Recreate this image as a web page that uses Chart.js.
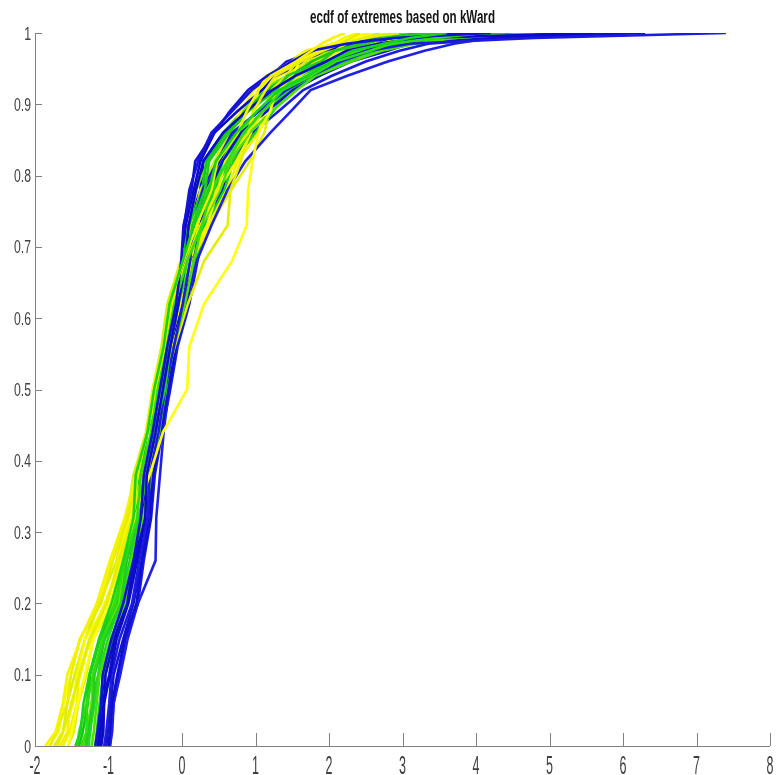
<!DOCTYPE html>
<html>
<head>
<meta charset="utf-8">
<title>ecdf of extremes based on kWard</title>
<script src="https://cdn.jsdelivr.net/npm/chart.js@4/dist/chart.umd.min.js"></script>
<style>
  html, body { margin: 0; padding: 0; background: #fff; }
  #wrap { width: 780px; height: 775px; }
</style>
</head>
<body>
<div id="wrap"><canvas id="ecdf" width="780" height="775"></canvas></div>
<script>
const cdfLevels = [0, 0.02, 0.06, 0.1, 0.15, 0.2, 0.26, 0.32, 0.38, 0.44, 0.5, 0.56, 0.62, 0.68, 0.73, 0.78, 0.82, 0.86, 0.89, 0.92, 0.94, 0.96, 0.975, 0.985, 0.993, 1];

const yellowX = [
  [-1.86, -1.72, -1.62, -1.56, -1.38, -1.16, -0.98, -0.78, -0.63, -0.47, -0.4, -0.25, -0.17, 0.02, 0.2, 0.4, 0.48, 0.76, 0.88, 1.04, 1.21, 1.55, 1.76, 1.9, 2.05, 2.22],
  [-1.79, -1.71, -1.56, -1.51, -1.39, -1.1, -0.94, -0.74, -0.6, -0.48, -0.32, -0.24, -0.14, 0.06, 0.25, 0.49, 0.59, 0.9, 0.97, 1.14, 1.27, 1.62, 1.92, 2.16, 2.3, 2.42],
  [-1.55, -1.5, -1.42, -1.32, -1.2, -0.98, -0.8, -0.64, -0.44, -0.26, 0.07, 0.1, 0.3, 0.68, 0.88, 0.9, 0.96, 1.04, 1.2, 1.28, 1.5, 1.6, 1.9, 2.04, 2.34, 2.6],
  [-1.7, -1.62, -1.5, -1.4, -1.26, -1.02, -0.86, -0.68, -0.54, -0.38, -0.26, -0.1, 0.08, 0.3, 0.62, 0.66, 0.8, 0.92, 1.1, 1.22, 1.42, 1.56, 1.86, 2.04, 2.4, 2.95],
  [-1.69, -1.62, -1.48, -1.43, -1.32, -1.02, -0.87, -0.72, -0.57, -0.42, -0.35, -0.23, -0.08, 0.09, 0.34, 0.49, 0.74, 0.94, 0.97, 1.04, 1.16, 1.49, 1.68, 2.07, 2.2, 2.4],
  [-1.74, -1.62, -1.56, -1.46, -1.32, -1.12, -0.89, -0.75, -0.66, -0.49, -0.4, -0.28, -0.2, -0.02, 0.14, 0.25, 0.44, 0.64, 0.88, 1.23, 1.43, 1.69, 2.08, 2.24, 2.45, 2.7],
  [-1.62, -1.53, -1.43, -1.4, -1.24, -0.97, -0.83, -0.66, -0.51, -0.36, -0.3, -0.18, -0.02, 0.14, 0.36, 0.61, 0.76, 1.04, 1.13, 1.23, 1.54, 1.82, 2.16, 2.58, 2.75, 3.2],
  [-1.81, -1.68, -1.61, -1.51, -1.39, -1.13, -0.96, -0.77, -0.6, -0.47, -0.34, -0.27, -0.14, 0.01, 0.18, 0.28, 0.48, 0.66, 0.8, 0.98, 1.16, 1.46, 1.68, 2.07, 2.25, 2.55],
  [-1.55, -1.47, -1.41, -1.3, -1.21, -0.94, -0.78, -0.62, -0.45, -0.36, -0.21, -0.13, 0.04, 0.19, 0.38, 0.67, 0.92, 1.12, 1.19, 1.28, 1.6, 1.89, 2.32, 2.67, 2.99, 3.45],
  [-1.66, -1.56, -1.51, -1.38, -1.26, -1.05, -0.83, -0.68, -0.54, -0.42, -0.28, -0.23, -0.08, 0.08, 0.23, 0.46, 0.55, 0.84, 0.97, 1.18, 1.32, 1.76, 2.0, 2.33, 2.55, 2.8]
];

const greenX = [
  [-1.45, -1.38, -1.34, -1.26, -1.13, -0.96, -0.8, -0.66, -0.63, -0.47, -0.38, -0.25, -0.17, 0.01, 0.16, 0.37, 0.46, 0.74, 1.02, 1.32, 1.7, 2.03, 2.32, 2.75, 3.1, 3.6],
  [-1.37, -1.3, -1.29, -1.21, -1.08, -0.9, -0.78, -0.61, -0.56, -0.42, -0.33, -0.2, -0.1, 0.07, 0.27, 0.4, 0.62, 0.84, 1.1, 1.37, 1.76, 2.09, 2.56, 2.84, 3.46, 4.1],
  [-1.31, -1.28, -1.21, -1.19, -1.05, -0.83, -0.75, -0.58, -0.48, -0.39, -0.23, -0.16, -0.05, 0.07, 0.14, 0.31, 0.37, 0.64, 0.9, 1.28, 1.43, 1.89, 2.08, 2.5, 2.76, 3.4],
  [-1.23, -1.2, -1.16, -1.12, -0.97, -0.78, -0.69, -0.53, -0.43, -0.31, -0.23, -0.11, 0.04, 0.16, 0.27, 0.52, 0.66, 0.92, 1.22, 1.56, 1.82, 2.3, 2.72, 3.18, 3.7, 4.8],
  [-1.4, -1.35, -1.28, -1.25, -1.12, -0.89, -0.8, -0.63, -0.57, -0.47, -0.3, -0.23, -0.13, 0.01, 0.09, 0.28, 0.33, 0.6, 0.87, 1.14, 1.49, 1.76, 2.08, 2.41, 2.76, 3.2],
  [-1.27, -1.25, -1.19, -1.14, -1.01, -0.83, -0.69, -0.58, -0.51, -0.36, -0.28, -0.16, -0.05, 0.1, 0.25, 0.37, 0.59, 0.8, 1.1, 1.46, 1.76, 2.23, 2.56, 2.92, 3.58, 5.0],
  [-1.42, -1.4, -1.3, -1.26, -1.12, -0.92, -0.77, -0.6, -0.52, -0.42, -0.28, -0.2, -0.05, 0.07, 0.2, 0.34, 0.55, 0.76, 1.02, 1.37, 1.54, 1.96, 2.4, 2.67, 3.22, 3.9],
  [-1.18, -1.16, -1.12, -1.07, -0.95, -0.76, -0.64, -0.52, -0.41, -0.29, -0.21, -0.08, 0.04, 0.19, 0.32, 0.58, 0.7, 1.0, 1.24, 1.46, 1.87, 2.16, 2.64, 3.0, 3.46, 4.4],
  [-1.34, -1.3, -1.23, -1.21, -1.08, -0.86, -0.76, -0.62, -0.6, -0.47, -0.35, -0.25, -0.14, -0.01, 0.11, 0.19, 0.36, 0.56, 0.82, 1.09, 1.43, 1.62, 2.0, 2.33, 2.65, 3.05],
  [-1.3, -1.25, -1.23, -1.14, -1.06, -0.84, -0.71, -0.59, -0.46, -0.36, -0.23, -0.16, 0.01, 0.13, 0.29, 0.43, 0.66, 0.88, 1.1, 1.37, 1.6, 2.03, 2.48, 2.75, 3.34, 4.6]
];

const blueX = [
  [-1.18, -1.15, -1.1, -1.08, -0.96, -0.8, -0.66, -0.56, -0.52, -0.4, -0.3, -0.2, -0.08, -0.01, 0.02, 0.13, 0.18, 0.44, 0.65, 0.9, 1.16, 1.49, 1.76, 2.24, 2.87, 4.2],
  [-1.1, -1.07, -1.06, -0.98, -0.89, -0.73, -0.61, -0.5, -0.48, -0.36, -0.26, -0.16, -0.05, 0.05, 0.09, 0.19, 0.29, 0.56, 0.87, 1.23, 1.54, 1.96, 2.24, 2.67, 3.22, 5.6],
  [-1.06, -1.03, -0.99, -0.96, -0.85, -0.68, -0.58, -0.47, -0.44, -0.32, -0.23, -0.11, 0.01, 0.11, 0.16, 0.28, 0.48, 0.68, 1.04, 1.42, 1.76, 2.16, 2.56, 3.09, 4.8, 7.4],
  [-1.0, -0.98, -0.95, -0.88, -0.78, -0.62, -0.54, -0.43, -0.39, -0.29, -0.18, -0.08, 0.07, 0.16, 0.25, 0.37, 0.55, 0.8, 1.15, 1.51, 1.87, 2.3, 2.8, 3.09, 4.2, 6.3],
  [-0.98, -0.95, -0.93, -0.84, -0.74, -0.6, -0.36, -0.35, -0.3, -0.25, -0.18, -0.1, 0.05, 0.2, 0.4, 0.62, 0.86, 1.2, 1.48, 1.75, 2.25, 2.8, 3.3, 3.7, 4.2, 5.2],
  [-1.14, -1.11, -1.06, -1.04, -0.92, -0.77, -0.65, -0.53, -0.51, -0.39, -0.3, -0.16, -0.05, 0.02, 0.05, 0.16, 0.25, 0.44, 0.75, 1.09, 1.27, 1.69, 1.92, 2.33, 2.87, 4.0],
  [-1.12, -1.09, -1.08, -0.99, -0.91, -0.75, -0.62, -0.52, -0.49, -0.36, -0.28, -0.17, -0.02, 0.02, 0.03, 0.1, 0.22, 0.4, 0.68, 0.95, 1.21, 1.42, 1.84, 2.24, 2.76, 3.8],
  [-1.03, -1.01, -0.97, -0.93, -0.8, -0.66, -0.55, -0.46, -0.4, -0.29, -0.2, -0.09, 0.05, 0.13, 0.18, 0.31, 0.51, 0.72, 1.04, 1.37, 1.71, 2.09, 2.48, 2.92, 3.7, 5.1],
  [-1.16, -1.13, -1.1, -1.06, -0.96, -0.78, -0.66, -0.55, -0.46, -0.36, -0.23, -0.16, 0.0, 0.06, 0.09, 0.25, 0.29, 0.56, 0.84, 1.18, 1.43, 1.82, 2.08, 2.5, 3.1, 4.5],
  [-0.98, -0.96, -0.93, -0.86, -0.77, -0.6, -0.52, -0.42, -0.37, -0.27, -0.16, -0.06, 0.1, 0.21, 0.32, 0.55, 0.66, 0.96, 1.31, 1.65, 2.04, 2.5, 2.96, 3.35, 4.4, 6.0]
];

const yellowShades = ['#f4f400', '#ecec00', '#ffff10', '#e6ee00', '#f8f800', '#d8ec10', '#f0f000', '#fafa00', '#e0ee08', '#f2f200'];
const greenShades = ['#18d418', '#30dc10', '#22cc22', '#48e000', '#10c810', '#28d828', '#38e018', '#1ad01a', '#60e400', '#20d020'];
const blueShades = ['#1212d6', '#0a0ac8', '#1c1ce0', '#1010cc', '#2020e6', '#0c0cc4', '#1818dc', '#1414d0', '#0808c0', '#1a1ae2'];

const xTickLabels = ['-2', '-1', '0', '1', '2', '3', '4', '5', '6', '7', '8'];
const yTickLabels = ['0', '0.1', '0.2', '0.3', '0.4', '0.5', '0.6', '0.7', '0.8', '0.9', '1'];
const chartTitle = 'ecdf of extremes based on kWard';

function curve(xs, color) {
  return {
    data: xs.map((x, i) => ({ x: x, y: cdfLevels[i] })),
    borderColor: color,
    borderWidth: 2.6,
    pointRadius: 0,
    tension: 0,
    fill: false
  };
}

// first dataset ends up on top, so green/yellow go first and blue sits a bit lower
const datasets = [];
for (let i = 0; i < 10; i++) {
  datasets.push(curve(greenX[i], greenShades[i]));
  datasets.push(curve(yellowX[i], yellowShades[i]));
  datasets.push(curve(blueX[i], blueShades[i]));
}

function squeezedText(ctx, text, x, y, sx) {
  ctx.save();
  ctx.translate(x, y);
  ctx.scale(sx, 1);
  ctx.fillText(text, 0, 0);
  ctx.restore();
}

// matlab-ish axes: left + bottom only, ticks pointing inwards, narrow labels
const matlabAxes = {
  id: "matlabAxes",
  beforeDatasetsDraw(chart) {
    const { ctx, chartArea: a, scales } = chart;
    const xs = scales.x, ys = scales.y;
    ctx.save();
    ctx.strokeStyle = "#808080";
    ctx.lineWidth = 1;
    ctx.beginPath();
    ctx.moveTo(a.left + 0.5, a.top);
    ctx.lineTo(a.left + 0.5, a.bottom + 0.5);
    ctx.lineTo(a.right, a.bottom + 0.5);
    xs.ticks.forEach(t => {
      const px = Math.round(xs.getPixelForValue(t.value)) + 0.5;
      ctx.moveTo(px, a.bottom);
      ctx.lineTo(px, a.bottom - 13);
    });
    ys.ticks.forEach(t => {
      const py = Math.round(ys.getPixelForValue(t.value)) + 0.5;
      ctx.moveTo(a.left, py);
      ctx.lineTo(a.left + 7, py);
    });
    ctx.stroke();

    ctx.fillStyle = "#404040";
    ctx.textBaseline = "alphabetic";
    ctx.font = '25px "Liberation Sans", Arial, sans-serif';
    ctx.textAlign = "center";
    xs.ticks.forEach(t => squeezedText(ctx, t.label, xs.getPixelForValue(t.value), a.bottom + 28, 0.5));
    ctx.font = '18px "Liberation Sans", Arial, sans-serif';
    ctx.textAlign = "right";
    ys.ticks.forEach(t => squeezedText(ctx, t.label, a.left - 4, ys.getPixelForValue(t.value) + 6.5, 0.68));

    ctx.fillStyle = "#151515";
    ctx.font = 'bold 18px "Liberation Sans", Arial, sans-serif';
    ctx.textAlign = "center";
    const w = ctx.measureText(chartTitle).width;
    squeezedText(ctx, chartTitle, (a.left + a.right) / 2, 23, 185 / w);
    ctx.restore();
  }
};

new Chart(document.getElementById("ecdf").getContext("2d"), {
  type: "line",
  data: { datasets },
  options: {
    responsive: false,
    animation: false,
    layout: { padding: { top: 33, right: 10, left: 0, bottom: 0 } },
    plugins: { legend: { display: false }, tooltip: { enabled: false }, title: { display: false } },
    scales: {
      x: {
        type: "linear",
        min: -2,
        max: 8,
        ticks: { display: false, stepSize: 1, callback: (v, i) => xTickLabels[i] },
        grid: { display: false },
        border: { display: false },
        afterFit: s => { s.height = 29; }
      },
      y: {
        type: "linear",
        min: 0,
        max: 1,
        ticks: { display: false, stepSize: 0.1, callback: (v, i) => yTickLabels[i] },
        grid: { display: false },
        border: { display: false },
        afterFit: s => { s.width = 35; }
      }
    }
  },
  plugins: [matlabAxes]
});
</script>
</body>
</html>
